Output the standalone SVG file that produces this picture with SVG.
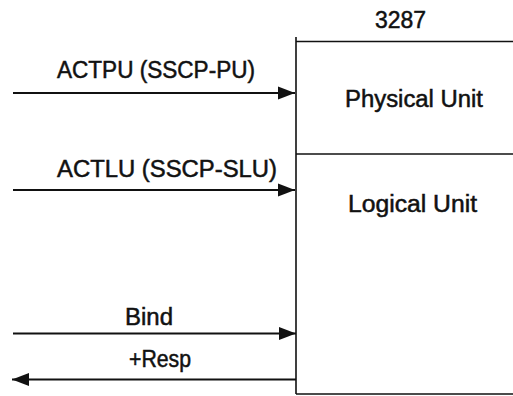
<svg xmlns="http://www.w3.org/2000/svg" width="513" height="396" viewBox="0 0 513 396">
<style>
text{font-family:"Liberation Sans",Arial,sans-serif;font-size:23px;fill:#111;stroke:#111;stroke-width:0.5}
.ln{stroke:#111;stroke-width:1.6;fill:none}
.cn{stroke:#111;stroke-width:1.8;fill:none}
</style>
<defs>
<marker id="ah" markerWidth="18" markerHeight="14" refX="17" refY="7" orient="auto" markerUnits="userSpaceOnUse">
<path d="M0,0.5 L17,7 L0,13.5 Z" fill="#111"/>
</marker>
</defs>
<rect width="513" height="396" fill="#fff"/>
<g id="unit-3287">
<text x="375" y="28" textLength="51" lengthAdjust="spacingAndGlyphs">3287</text>
<path class="ln" d="M296,37 V394 M296,41.5 H513 M296,394 H513"/>
</g>
<g id="physical-unit">
<text x="345" y="107" textLength="138" lengthAdjust="spacingAndGlyphs">Physical Unit</text>
</g>
<g id="logical-unit">
<path class="ln" d="M296,154 H513"/>
<text x="348" y="212" textLength="129" lengthAdjust="spacingAndGlyphs">Logical Unit</text>
</g>
<g id="connectors">
<path class="cn" d="M13,93 H295" marker-end="url(#ah)"/>
<text x="57" y="78" textLength="198" lengthAdjust="spacingAndGlyphs">ACTPU (SSCP-PU)</text>
<path class="cn" d="M13,190 H295" marker-end="url(#ah)"/>
<text x="57" y="177" textLength="220" lengthAdjust="spacingAndGlyphs">ACTLU (SSCP-SLU)</text>
<path class="cn" d="M13,333.5 H296" marker-end="url(#ah)"/>
<text x="125" y="325" textLength="48" lengthAdjust="spacingAndGlyphs">Bind</text>
<path class="cn" d="M296,379.5 H12" marker-end="url(#ah)"/>
<text x="129" y="367" textLength="62" lengthAdjust="spacingAndGlyphs">+Resp</text>
</g>
</svg>
